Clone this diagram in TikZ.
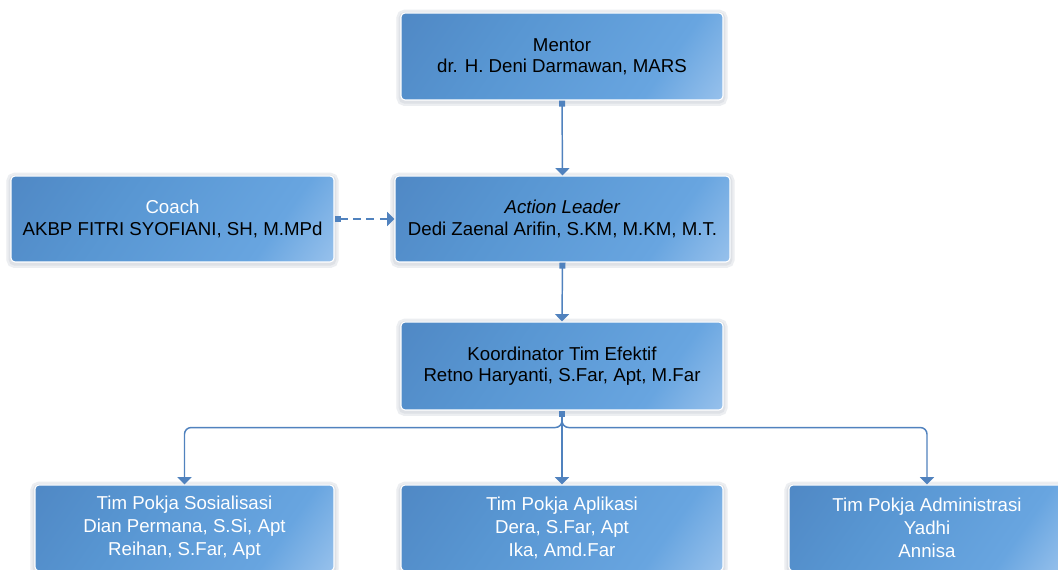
\documentclass[tikz,border=0pt]{standalone}
\usepackage{fontspec}
\setmainfont{Liberation Sans}
\usetikzlibrary{arrows.meta}
\definecolor{bA}{RGB}{74,127,188}
\definecolor{bB}{RGB}{88,150,210}
\definecolor{bC}{RGB}{104,165,224}
\definecolor{bD}{RGB}{200,222,248}
\definecolor{lc}{RGB}{80,130,190}
\definecolor{sh1}{RGB}{236,238,241}
\definecolor{sh2}{RGB}{222,225,230}
\pgfdeclarehorizontalshading{boxshade}{100bp}{color(0bp)=(bA); color(38bp)=(bB); color(70bp)=(bC); color(100bp)=(bD)}
\tikzset{
  box/.style={rounded corners=3pt, draw=white, line width=0.8pt,
    shading=boxshade, shading angle=-35, align=center, inner sep=0pt,
    font=\fontsize{14}{16}\selectfont,
    preaction={draw=sh1, line width=7pt, transform canvas={yshift=-1pt}},
    preaction={draw=sh2, line width=3.5pt, transform canvas={yshift=-1pt}}},
  lowbox/.style={box, font=\fontsize{14}{17.25}\selectfont, text=white},
  conn/.style={draw=lc, line width=1.1pt,
    {Square[length=4.5pt,width=4.5pt]}-{Triangle[length=5.5pt,width=10.5pt]}}
}
\begin{document}
\begin{tikzpicture}[x=0.75pt,y=-0.75pt]
\useasboundingbox[fill=white] (0,0) rectangle (1058,570);
\node[box,minimum width=241.5pt,minimum height=65.25pt] (mentor) at (562,56.5) {Mentor\\dr. H. Deni Darmawan, MARS};
\node[box,minimum width=242.25pt,minimum height=64.5pt] (coach) at (172.5,219) {\textcolor{white}{Coach}\\AKBP FITRI SYOFIANI, SH, M.MPd};
\node[box,minimum width=251.25pt,minimum height=64.5pt] (action) at (562.5,219) {\textit{Action Leader}\\Dedi Zaenal Arifin, S.KM, M.KM, M.T.};
\node[box,minimum width=241.5pt,minimum height=66pt] (koord) at (562,366) {Koordinator Tim Efektif\\Retno Haryanti, S.Far, Apt, M.Far};
\node[lowbox,minimum width=224.25pt,minimum height=64.5pt] (sos) at (184.5,528) {Tim Pokja Sosialisasi\\Dian Permana, S.Si, Apt\\Reihan, S.Far, Apt};
\node[lowbox,minimum width=241.5pt,minimum height=64.5pt] (apl) at (562,528) {Tim Pokja Aplikasi\\Dera, S.Far, Apt\\Ika, Amd.Far};
\node[lowbox,minimum width=207pt,minimum height=64.5pt] (adm) at (927,528) {Tim Pokja Administrasi\\Yadhi\\Annisa};
\draw[conn] (mentor.south) -- (action.north);
\draw[conn,dash pattern=on 6pt off 4pt] (coach.east) -- (action.west);
\draw[conn] (action.south) -- (koord.north);
\draw[conn,rounded corners=5pt] (koord.south) -- ++(0,17) -| (sos.north);
\draw[conn,rounded corners=5pt] (koord.south) -- ++(0,17) -| (adm.north);
\draw[conn] (koord.south) -- (apl.north);
\end{tikzpicture}
\end{document}
